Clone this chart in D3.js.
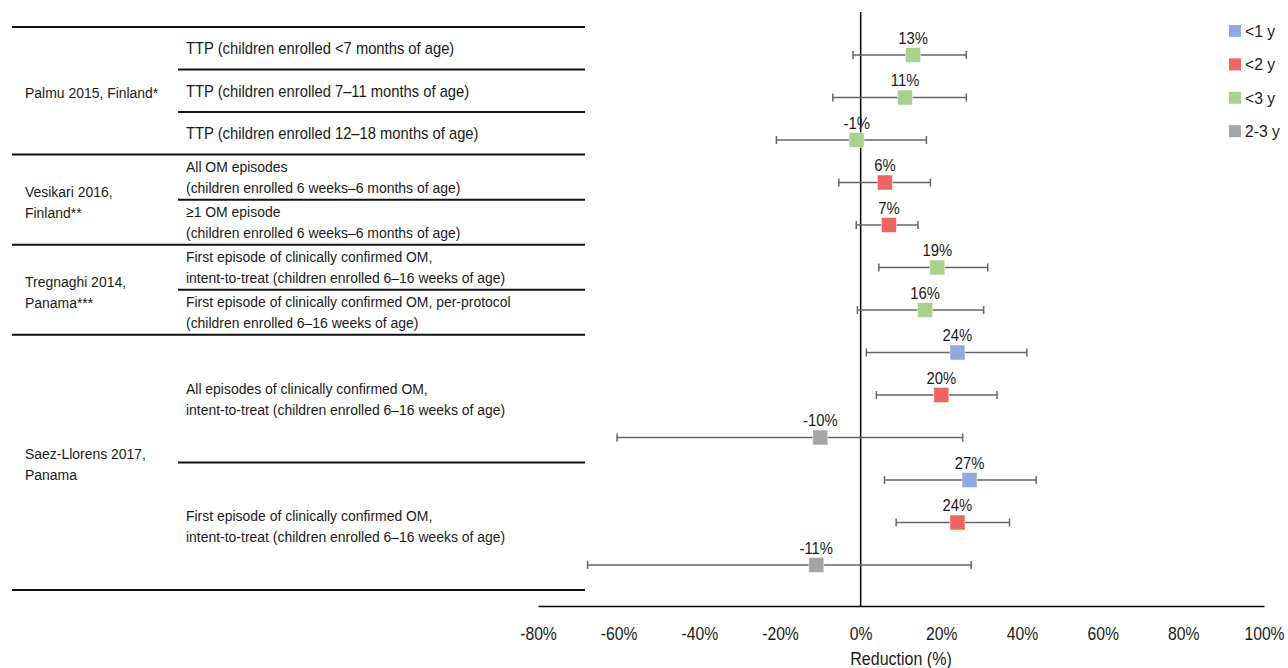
<!DOCTYPE html>
<html>
<head>
<meta charset="utf-8">
<script src="https://cdn.jsdelivr.net/npm/d3@7"></script>
<style>
  body { margin: 0; background: #fff; }
  text { font-family: "Liberation Sans", Arial, sans-serif; fill: #1a1a1a; }
</style>
</head>
<body>
<script>
// --- data ---
const studies     = ["Palmu 2015, Finland*", "Vesikari 2016,|Finland**", "Tregnaghi 2014,|Panama***", "Saez-Llorens 2017,|Panama"];
const studySpans  = [[0, 3], [3, 5], [5, 7], [7, 13]];
const outcomes    = [
  "TTP (children enrolled <7 months of age)",
  "TTP (children enrolled 7\u201311 months of age)",
  "TTP (children enrolled 12\u201318 months of age)",
  "All OM episodes|(children enrolled 6 weeks\u20136 months of age)",
  "\u22651 OM episode|(children enrolled 6 weeks\u20136 months of age)",
  "First episode of clinically confirmed OM,|intent-to-treat (children enrolled 6\u201316 weeks of age)",
  "First episode of clinically confirmed OM, per-protocol|(children enrolled 6\u201316 weeks of age)",
  "All episodes of clinically confirmed OM,|intent-to-treat (children enrolled 6\u201316 weeks of age)",
  "First episode of clinically confirmed OM,|intent-to-treat (children enrolled 6\u201316 weeks of age)"
];
const outcomeSpans = [[0,1],[1,2],[2,3],[3,4],[4,5],[5,6],[6,7],[7,10],[10,13]];
const rowWeights   = [1, 1, 1, 1.06, 1.06, 1.06, 1.06, 1, 1, 1, 1, 1, 1];

const ageGroups = ["<1 y", "<2 y", "<3 y", "2-3 y"];
const ageColors = ["#8faadc", "#f06464", "#a9d18e", "#a5a5a5"];

const rowAge    = ["<3 y", "<3 y", "<3 y", "<2 y", "<2 y", "<3 y", "<3 y", "<1 y", "<2 y", "2-3 y", "<1 y", "<2 y", "2-3 y"];
const estimate  = [13, 11, -1, 6, 7, 19, 16, 24, 20, -10, 27, 24, -11];
const ciLow     = [-1.9, -6.9, -20.9, -5.4, -1.1, 4.5, -0.8, 1.4, 3.9, -60.4, 5.9, 8.8, -67.7];
const ciHigh    = [26.2, 26.2, 16.3, 17.3, 14.2, 31.5, 30.5, 41.2, 33.8, 25.3, 43.5, 36.9, 27.4];

const xTicks = [-80, -60, -40, -20, 0, 20, 40, 60, 80, 100];

// --- layout ---
const W = 1288, H = 668;
const SQUEEZE = 0.9; // the source text looks horizontally condensed

const svg = d3.select("body").append("svg")
  .attr("width", W).attr("height", H);

const x = d3.scaleLinear().domain([-80, 100]).range([538, 1264]);
const y = d3.scalePoint().domain(d3.range(estimate.length)).range([55, 565]);
const color = d3.scaleOrdinal().domain(ageGroups).range(ageColors);

// table rows have their own vertical scale
const cum = [0, ...d3.cumsum(rowWeights)];
const ty = d3.scaleLinear().domain([0, cum[cum.length - 1]]).range([27, 590]);
const edge = i => ty(cum[i]);

function label(g, str, tx, cy, anchor, gap, size) {
  const lines = str.split("|");
  const t = g.append("g").attr("transform", `translate(${tx},${cy}) scale(${SQUEEZE},1)`);
  t.selectAll("text").data(lines).join("text")
    .attr("x", 0)
    .attr("y", (d, i) => (i - (lines.length - 1) / 2) * gap)
    .attr("dy", "0.35em")
    .attr("text-anchor", anchor || "start")
    .style("font-size", (size || 15.5) + "px")
    .text(d => d);
}

// table
const table = svg.append("g");
const fullLines = [0, ...studySpans.map(s => s[1])];
const innerLines = outcomeSpans.map(s => s[1]).filter(e => !fullLines.includes(e));
table.selectAll("line.full").data(fullLines).join("line")
  .attr("x1", 12).attr("x2", 585)
  .attr("y1", edge).attr("y2", edge)
  .attr("stroke", "#111").attr("stroke-width", 2);
table.selectAll("line.inner").data(innerLines).join("line")
  .attr("x1", 178).attr("x2", 585)
  .attr("y1", edge).attr("y2", edge)
  .attr("stroke", "#111").attr("stroke-width", 2);

studies.forEach((s, i) => {
  const [a, b] = studySpans[i];
  label(table, s, 25, (edge(a) + edge(b)) / 2 + 2, "start", 21);
});
outcomes.forEach((s, i) => {
  const [a, b] = outcomeSpans[i];
  // single-line TTP rows are set a bit larger in the source
  label(table, s, 186, (edge(a) + edge(b)) / 2, "start", 21, s.includes("|") ? 15.5 : 16.4);
});

// zero line
svg.append("line")
  .attr("x1", x(0)).attr("x2", x(0))
  .attr("y1", 12).attr("y2", 606)
  .attr("stroke", "#000").attr("stroke-width", 1.5);

// x axis
const axis = svg.append("g").attr("transform", "translate(0,606)")
  .call(d3.axisBottom(x).tickValues(xTicks).tickSize(0).tickPadding(22).tickFormat(d => d + "%"));
axis.select(".domain").attr("stroke", "#000").attr("stroke-width", 1.5);
axis.selectAll(".tick text")
  .style("font-size", "17.5px").style("font-family", "Liberation Sans, Arial, sans-serif").attr("fill", "#1a1a1a")
  .attr("transform", `scale(${SQUEEZE},1)`);
label(svg, "Reduction (%)", (x.range()[0] + x.range()[1]) / 2, 659, "middle", 0, 17.8);

// error bars
const rows = d3.range(estimate.length);
const bars = svg.append("g").selectAll("g").data(rows).join("g")
  .attr("transform", i => `translate(0,${y(i)})`);
bars.append("line")
  .attr("x1", i => x(ciLow[i])).attr("x2", i => x(ciHigh[i]))
  .attr("stroke", "#666").attr("stroke-width", 1.5);
[ciLow, ciHigh].forEach(arr => {
  bars.append("line")
    .attr("x1", i => x(arr[i])).attr("x2", i => x(arr[i]))
    .attr("y1", -4).attr("y2", 4)
    .attr("stroke", "#666").attr("stroke-width", 1.5);
});
bars.append("rect")
  .attr("x", i => x(estimate[i]) - 7.5).attr("y", -7.5)
  .attr("width", 15).attr("height", 15)
  .attr("fill", i => color(rowAge[i]))
  .attr("stroke", "#fff").attr("stroke-width", 0.8).attr("stroke-opacity", 0.6);
bars.each(function (i) {
  label(d3.select(this), estimate[i] + "%", x(estimate[i]), -17, "middle", 0, 16.5);
});

// legend
const legend = svg.append("g").selectAll("g").data(ageGroups).join("g")
  .attr("transform", (d, i) => `translate(1229,${31 + i * 33.4})`);
legend.append("rect")
  .attr("x", 0).attr("y", -6).attr("width", 12).attr("height", 12)
  .attr("fill", d => color(d));
legend.each(function (d) {
  label(d3.select(this), d, 16, 0, "start", 0, 17.4);
});
</script>
</body>
</html>
